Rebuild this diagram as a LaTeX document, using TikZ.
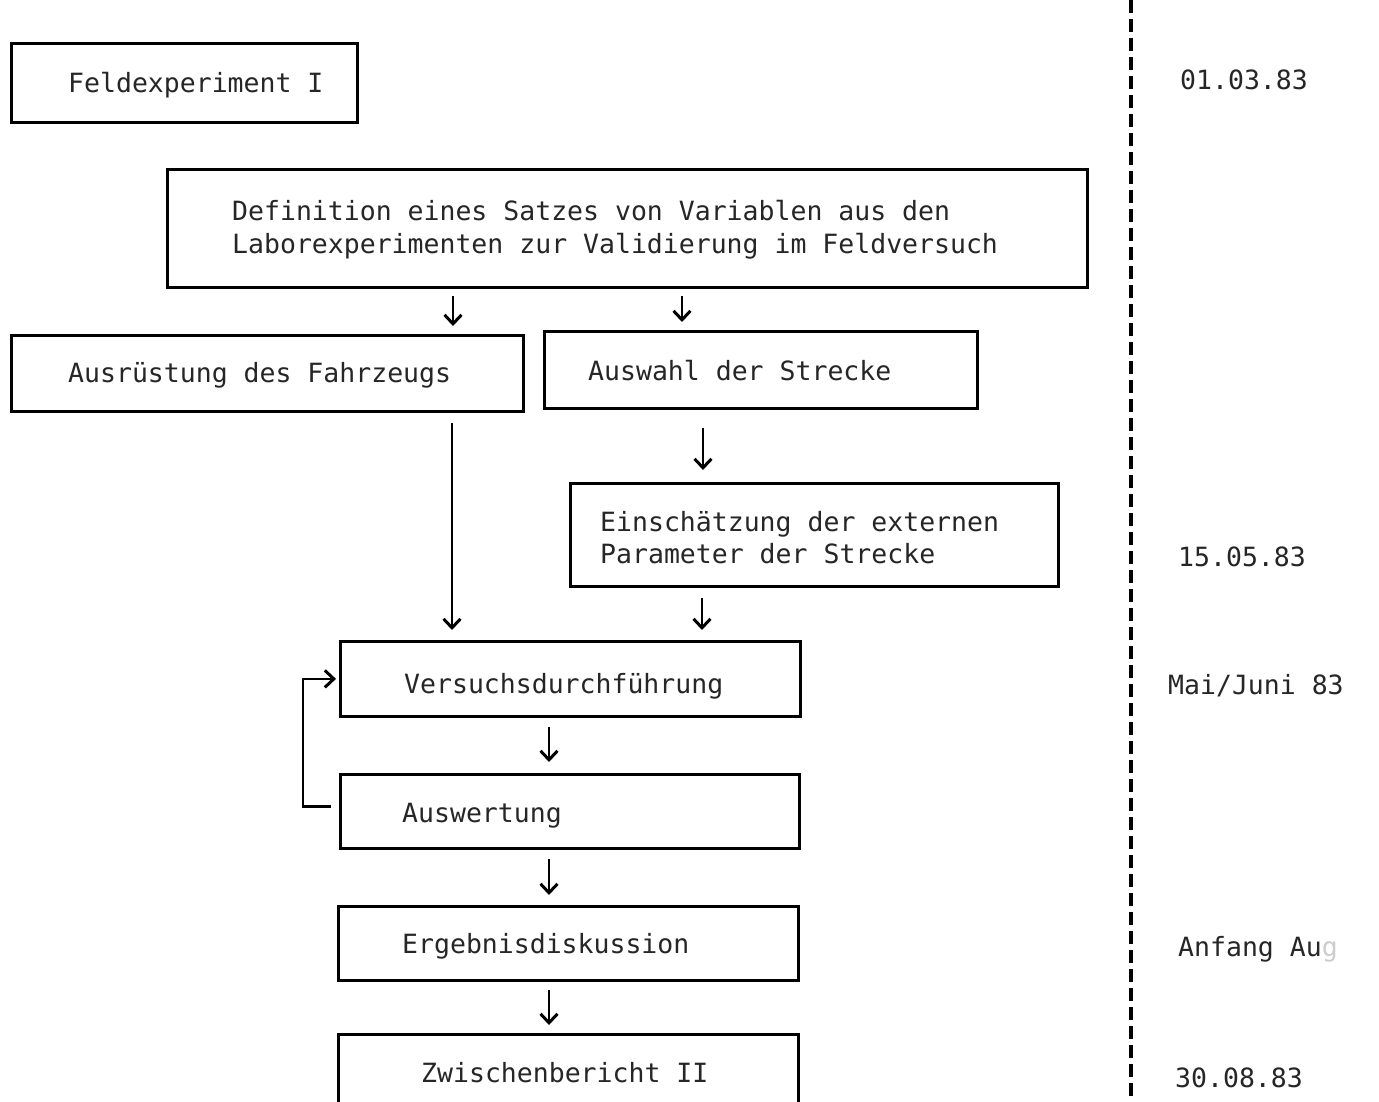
\documentclass[tikz,border=0pt]{standalone}
\usepackage{fontspec}
\setmonofont{DejaVu Sans Mono}
\usetikzlibrary{arrows.meta,calc}
\begin{document}
\begin{tikzpicture}[x=1pt,y=-1pt,
  box/.style={draw=black, line width=2.8pt, inner sep=0pt, anchor=north west},
  txt/.style={anchor=base west, inner sep=0pt, font=\fontsize{26.5}{33}\ttfamily, text=black!85},
  arr/.style={line width=2.8pt, -{Straight Barb[length=9pt,width=17pt,line width=3pt]}},
  tl/.style={line width=3.4pt, dash pattern=on 13pt off 6pt}]
\useasboundingbox (0,0) rectangle (1379,1102);
\clip (0,0) rectangle (1379,1102);
\fill[white] (0,0) rectangle (1379,1102);

% boxes
\node[box, minimum width=346, minimum height=79] (fe) at (10,42) {};
\node[box, minimum width=920, minimum height=118] (def) at (166,168) {};
\node[box, minimum width=512, minimum height=76] (aus) at (10,334) {};
\node[box, minimum width=433, minimum height=77] (wahl) at (543,330) {};
\node[box, minimum width=488, minimum height=103] (ein) at (569,482) {};
\node[box, minimum width=460, minimum height=75] (vers) at (339,640) {};
\node[box, minimum width=459, minimum height=74] (ausw) at (339,773) {};
\node[box, minimum width=460, minimum height=74] (erg) at (337,905) {};
\node[box, minimum width=460, minimum height=100] (zw) at (337,1033) {};

% texts
\node[txt] (tfe) at (68,93) {Feldexperiment I};
\node[txt] (tdef1) at (232,221) {Definition eines Satzes von Variablen aus den};
\node[txt] (tdef2) at (232,254) {Laborexperimenten zur Validierung im Feldversuch};
\node[txt] (taus) at (68,382) {Ausrüstung des Fahrzeugs};
\node[txt] (twahl) at (588,380) {Auswahl der Strecke};
\node[txt] (tein1) at (600,531) {Einschätzung der externen};
\node[txt] (tein2) at (600,563) {Parameter der Strecke};
\node[txt] (tvers) at (404,693) {Versuchsdurchführung};
\node[txt] (tausw) at (402,822) {Auswertung};
\node[txt] (terg) at (402,953) {Ergebnisdiskussion};
\node[txt] (tzw) at (421,1082) {Zwischenbericht II};

% time line
\coordinate (tltop) at (1131,0);
\coordinate (tlbot) at (1131,1102);
\draw[tl] (tltop) -- (tlbot);
\node[txt] (d1) at (1180,90) {01.03.83};
\node[txt] (d2) at (1178,566) {15.05.83};
\node[txt] (d3) at (1168,694) {Mai/Juni 83};
\node[txt] (d4) at (1178,956) {Anfang Au\textcolor{black!20}{g}};
\node[txt] (d5) at (1175,1087) {30.08.83};

% arrows
\coordinate (xa) at (453,0);
\coordinate (xb) at (682,0);
\coordinate (xc) at (452,0);
\coordinate (xd) at (703,0);
\coordinate (xe) at (702,0);
\coordinate (xf) at (549,0);
\draw[arr, shorten <=7pt, shorten >=8pt] (def.south -| xa) -- (aus.north -| xa);
\draw[arr, shorten <=7pt, shorten >=8pt] (def.south -| xb) -- (wahl.north -| xb);
\draw[arr, shorten <=10pt, shorten >=10pt] (aus.south -| xc) -- (vers.north -| xc);
\draw[arr, shorten <=18pt, shorten >=12pt] (wahl.south -| xd) -- (ein.north -| xd);
\draw[arr, shorten <=10pt, shorten >=10pt] (ein.south -| xe) -- (vers.north -| xe);
\draw[arr, shorten <=9pt, shorten >=11pt] (vers.south -| xf) -- (ausw.north -| xf);
\draw[arr, shorten <=9pt, shorten >=10pt] (ausw.south -| xf) -- (erg.north -| xf);
\draw[arr, shorten <=8pt, shorten >=8pt] (erg.south -| xf) -- (zw.north -| xf);
% feedback loop
\draw[arr, shorten <=8pt, shorten >=3pt] ([yshift=5pt]ausw.west) -- ++(-36,0) |- (vers.west);
\end{tikzpicture}
\end{document}
